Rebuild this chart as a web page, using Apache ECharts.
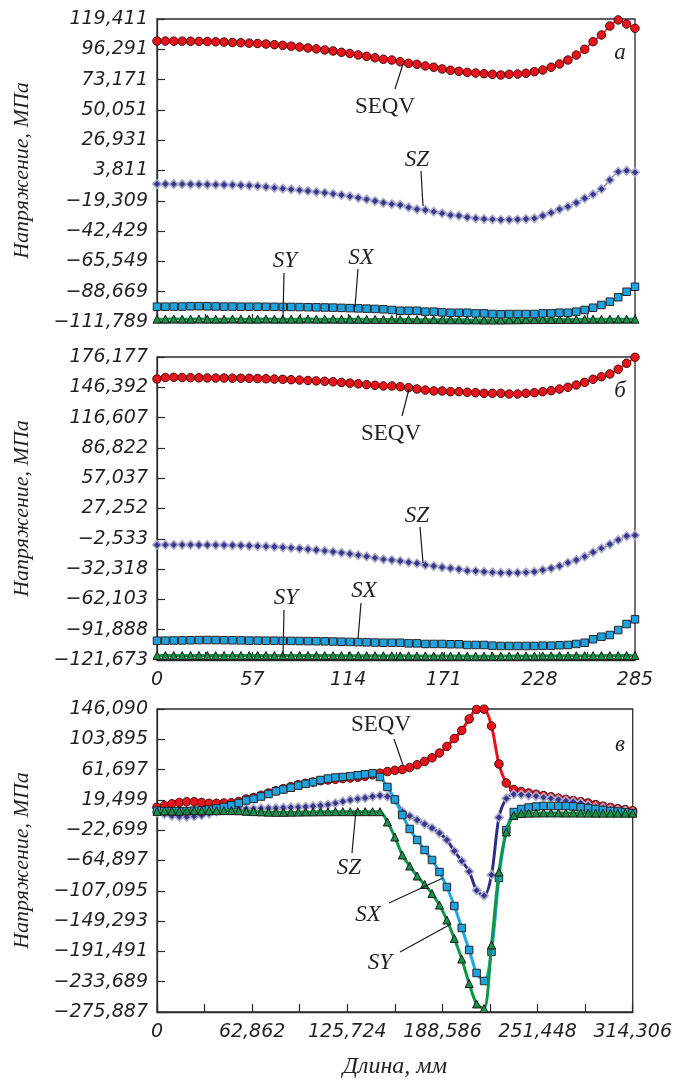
<!DOCTYPE html>
<html>
<head>
<meta charset="utf-8">
<script src="https://cdn.jsdelivr.net/npm/echarts@6/dist/echarts.min.js"></script>
<style>
  html, body { margin: 0; padding: 0; background: #fff; }
  #chart { width: 675px; height: 1081px; }
</style>
</head>
<body>
<div id="chart"></div>
<script>
// x positions, mm
var xsAB = [0, 5, 10, 15, 20, 25, 30, 35, 40, 45, 50, 55, 60, 65, 70, 75, 80, 85, 90, 95,
  100, 105, 110, 115, 120, 125, 130, 135, 140, 145, 150, 155, 160, 165, 170, 175, 180, 185, 190, 195,
  200, 205, 210, 215, 220, 225, 230, 235, 240, 245, 250, 255, 260, 265, 270, 275, 280, 285];
var xsC = [0, 4.91, 9.82, 14.73, 19.64, 24.56, 29.47, 34.38, 39.29, 44.2, 49.11, 54.02, 58.93, 63.84,
  68.75, 73.67, 78.58, 83.49, 88.4, 93.31, 98.22, 103.13, 108.04, 112.95, 117.86, 122.78, 127.69,
  132.6, 137.51, 142.42, 147.33, 152.24, 157.15, 162.06, 166.97, 171.89, 176.8, 181.71, 186.62,
  191.53, 196.44, 201.35, 206.26, 211.17, 216.09, 221.0, 225.91, 230.82, 235.73, 240.64, 245.55,
  250.46, 255.37, 260.28, 265.2, 270.11, 275.02, 279.93, 284.84, 289.75, 294.66, 299.57, 304.48,
  309.39, 314.3];

// panel a
var seqvA = [102.6, 102.6, 102.5, 102.5, 102.4, 102.3, 102.2, 102.0, 101.8, 101.5, 101.3, 101.0, 100.7,
  100.3, 99.8, 99.3, 98.7, 98.0, 97.3, 96.6, 95.8, 95.0, 94.0, 93.1, 92.0, 90.9, 89.8,
  88.7, 88.1, 86.8, 85.6, 84.8, 83.6, 82.6, 81.3, 80.3, 79.5, 78.7, 78.2, 77.7, 77.2, 76.7, 77.2,
  77.4, 78.0, 79.2, 80.5, 82.6, 85.1, 88.1, 91.9, 96.3, 102.1, 107.2, 114.1, 118.7, 115.6, 112.3];
var szA = [-6.5, -6.5, -6.6, -6.6, -6.7, -6.8, -6.9, -7.0, -7.1, -7.2, -7.4, -7.7, -8.1, -8.7, -9.4,
  -10.0, -10.6, -11.2, -11.8, -12.5, -13.2, -14.0, -14.9, -15.9, -17.0, -18.2, -19.5,
  -20.8, -21.8, -22.5, -24.3, -25.8, -26.3, -27.6, -28.9, -30.2, -30.7, -31.9, -32.7, -33.2, -33.5,
  -33.8, -33.8, -33.6, -33.2, -32.7, -30.7, -28.4, -25.8, -23.8, -20.8, -17.4, -14.4, -10.3, -3.4,
  2.9, 3.7, 2.4];
var sxA = [-100.1, -100.1, -100.0, -100.0, -99.8, -99.7, -99.8, -99.9, -100.0, -100.0, -100.1, -100.1,
  -100.1, -100.2, -100.2, -100.3, -100.3, -100.4, -100.5, -100.6, -100.7, -100.8, -101.0, -101.2,
  -101.4, -101.6, -101.8,
  -102.1, -102.6, -103.2, -103.2, -103.2, -103.9, -103.9, -104.4, -104.7, -104.7, -104.7, -105.2,
  -105.2, -105.7, -105.9, -105.7, -105.7, -105.7, -105.7, -105.2, -105.2, -104.7, -104.7, -103.9,
  -102.6, -100.9, -98.8, -96.3, -92.9, -88.7, -84.9];
var syA = [-109.6, -109.6, -109.5, -109.6, -109.6, -109.5, -109.6, -109.6, -109.6, -109.5, -109.6,
  -109.6, -109.6, -109.5, -109.6, -109.6, -109.6, -109.6, -109.5, -109.6, -109.6, -109.6, -109.7,
  -109.7, -109.7, -109.8, -109.8, -109.8, -109.9, -109.9, -109.9, -110.0, -110.0, -110.0, -110.1,
  -110.1, -110.1, -110.2, -110.2, -110.3, -110.3, -110.3, -110.2, -110.1, -110.0, -110.0, -109.9,
  -109.9, -109.8, -109.8, -109.8, -109.7, -109.7, -109.7, -109.6, -109.6, -109.6, -109.6];

// panel b
var seqvB = [154.6, 156.0, 156.2, 156.0, 155.8, 155.7, 155.6, 155.5, 155.5, 155.4, 155.3, 155.2, 155.0,
  154.8, 154.5, 154.2, 153.9, 153.5, 153.1, 152.7, 152.3, 151.8, 151.2, 150.5, 149.8, 149.0, 148.3,
  147.7, 147.7, 147.0, 146.0, 144.7, 143.7, 142.8, 142.8, 142.1, 142.1, 141.5, 141.1, 140.5, 140.5,
  140.5, 139.8, 139.8, 140.5, 141.1, 142.1, 143.1, 144.7, 146.4, 148.7, 151.3, 154.3, 156.8, 159.5,
  164.1, 170.0, 175.9];
var szB = [-8.6, -8.5, -8.5, -8.5, -8.5, -8.6, -8.6, -8.7, -8.8, -8.9, -9.1, -9.4, -9.7, -10.0, -10.4,
  -10.9, -11.5, -12.1, -12.8, -13.6, -14.4, -15.3, -16.3, -17.4, -18.6, -19.9, -21.3,
  -22.7, -23.4, -24.4, -25.6, -26.6, -28.3, -29.3, -30.5, -31.5, -32.5, -33.9, -34.2, -34.9, -35.5,
  -35.9, -35.9, -35.9, -35.5, -34.9, -33.2, -31.5, -29.3, -26.0, -23.4, -20.1, -15.8, -11.9, -7.9,
  -3.7, 0.2, 0.9];
var sxB = [-102.7, -102.6, -102.5, -102.4, -102.3, -102.1, -102.0, -102.1, -102.2, -102.3, -102.4,
  -102.6, -102.6, -102.7, -102.7, -102.8, -102.9, -103.0, -103.1, -103.2, -103.3, -103.5, -103.7,
  -103.9, -104.1, -104.3, -104.5,
  -104.7, -104.7, -104.7, -105.3, -105.3, -105.9, -105.9, -105.9, -106.2, -106.2, -106.9, -106.9,
  -106.9, -107.6, -107.9, -107.9, -107.9, -107.9, -107.9, -107.6, -107.6, -107.2, -106.9, -105.9,
  -104.7, -101.3, -98.8, -97.1, -92.2, -86.3, -81.7];
var syB = [-117.3, -117.3, -117.2, -117.3, -117.3, -117.2, -117.3, -117.3, -117.3, -117.2, -117.3,
  -117.3, -117.3, -117.2, -117.3, -117.3, -117.3, -117.3, -117.2, -117.3, -117.3, -117.3, -117.4,
  -117.4, -117.4, -117.5, -117.5, -117.5, -117.6, -117.6, -117.6, -117.7, -117.7, -117.7, -117.8,
  -117.8, -117.8, -117.9, -117.9, -117.9, -117.9, -117.9, -117.8, -117.8, -117.7, -117.7, -117.6,
  -117.6, -117.5, -117.5, -117.5, -117.4, -117.4, -117.4, -117.3, -117.3, -117.3, -117.3];

// panel c
var seqvC = [9.2, 11.7, 14.1, 15.9, 16.9, 17.0, 15.9, 14.8, 14.8, 15.2, 15.5, 17.3, 20.8, 22.8, 26.0,
  29.1, 32.2, 35.1, 37.9, 40.7, 42.6, 44.4, 46.2, 47.2, 48.2, 49.2, 50.0, 51.1, 52.5, 54.5, 56.7,
  58.9, 60.7, 61.8, 64.6, 68.4, 73.0, 78.1, 84.8, 93.9, 105.0, 116.2, 132.2, 145.4, 145.8, 122.4,
  69.5, 43.0, 34.0, 31.2, 29.1, 27.3, 25.5, 23.8, 22.0, 20.3, 18.6, 17.0, 15.3, 13.0, 10.8, 9.0,
  7.4, 6.0, 4.5];
var szC = [2.2, -0.4, -2.6, -3.8, -3.9, -3.2, -1.8, 0.4, 3.5, 5.2, 6.3, 7.1, 7.2, 7.2, 7.7, 7.8, 8.1,
  8.5, 9.1, 9.5, 9.9, 10.7, 11.7, 13.0, 15.0, 17.3, 19.4, 20.9, 22.1, 24.2, 25.6, 24.2, 19.4, 3.3,
  -2.9, -8.5, -14.1, -19.6, -26.6, -36.3, -51.7, -65.6, -80.2, -106.5, -113.9, -85.0, -5.0, 21.5,
  27.4, 26.9, 25.9, 24.7, 23.1, 21.7, 20.1, 18.4, 17.0, 15.2, 12.4, 10.0, 8.6, 6.8, 5.4, 4.0, 2.2];
var sxC = [4.5, 4.0, 3.8, 3.8, 4.0, 4.5, 5.0, 6.0, 7.5, 9.6, 12.0, 15.2, 18.7, 21.0, 24.2, 27.7, 31.5,
  34.0, 36.4, 39.4, 41.9, 44.2, 47.2, 49.2, 50.7, 51.4, 52.5, 53.8, 55.2, 56.5, 51.4, 37.5, 20.1,
  -1.5, -21.0, -36.3, -50.3, -64.2, -80.9, -101.8, -128.3, -158.9, -189.5, -221.6, -232.7, -192.0,
  -89.3, -22.4, 2.6, 6.8, 8.9, 10.3, 11.0, 11.0, 11.0, 11.0, 10.3, 9.2, 8.2, 6.8, 5.4, 4.0, 3.3,
  2.2, 1.3];
var syC = [3.5, 4.2, 4.0, 3.8, 4.4, 4.6, 4.4, 4.6, 4.4, 4.6, 4.6, 4.4, 3.6, 3.2, 2.8, 2.4, 2.2, 2.2,
  2.4, 2.5, 2.7, 2.8, 2.9, 3.0, 3.1, 3.1, 3.1, 3.1, 3.1, 3.1, 3.1,
  -11.3, -32.2, -57.2, -72.6, -86.5, -98.3, -110.9, -126.9, -147.8, -173.5, -202.1, -236.2, -264.7,
  -271.0, -182.6, -80.9, -25.2, -2.2, 0.6,
  1.0, 1.2, 1.3, 1.3, 1.3, 1.2, 1.2, 1.1, 1.1, 1.0, 1.0, 1.0, 1.0, 1.0, 1.0];

// tick labels
var yTicksA = [-111.789, -88.669, -65.549, -42.429, -19.309, 3.811, 26.931, 50.051, 73.171, 96.291, 119.411];
var yTicksB = [-121.673, -91.888, -62.103, -32.318, -2.533, 27.252, 57.037, 86.822, 116.607, 146.392, 176.177];
var yTicksC = [-275.887, -233.689, -191.491, -149.293, -107.095, -64.897, -22.699, 19.499, 61.697, 103.895, 146.090];
var xLabelsAB = [0, 57, 114, 171, 228, 285];
var xTicksAB = [0, 28.5, 57, 85.5, 114, 142.5, 171, 199.5, 228, 256.5, 285];
var xLabelsC = [0, 62.862, 125.724, 188.586, 251.448, 314.306];
var xTicksC = [0, 31.431, 62.862, 94.293, 125.724, 157.155, 188.586, 220.017, 251.448, 282.879, 314.306];

var AX = '#2b2b2b';
var TXT = '#231f20';
var tickFont = { fontFamily: 'DejaVu Sans', fontStyle: 'italic', fontSize: 19, color: TXT };
var nameFont = { fontFamily: 'Liberation Serif', fontStyle: 'italic', fontSize: 22, color: TXT };
var xNameFont = { fontFamily: 'Liberation Serif', fontStyle: 'italic', fontSize: 24, color: TXT };

function fmt(v) {
    if (v === 0) return '0';
    var s = Number.isInteger(v) ? String(Math.abs(v)) : Math.abs(v).toFixed(3).replace('.', ',');
    return (v < 0 ? '\u2212' : '') + s;
}

function pts(xs, ys) {
    return xs.map(function (x, i) { return [x, ys[i]]; });
}

var tops = [19, 357, 709];
var grids = tops.map(function (t) {
    return { left: 157, width: 478, top: t, height: 303, show: true, borderColor: AX, borderWidth: 1.3, backgroundColor: 'transparent' };
});

function xAxisFor(idx, max, ticks, labels, showLabels, name) {
    return {
        type: 'value', gridIndex: idx, min: 0, max: max,
        name: name || '', nameLocation: 'middle', nameGap: 43, nameTextStyle: xNameFont,
        axisLine: { show: true, onZero: false, lineStyle: { color: AX, width: 1.3 } },
        axisTick: { show: true, inside: true, length: 8, customValues: ticks, lineStyle: { color: AX, width: 1.2 } },
        axisLabel: { show: showLabels, customValues: labels, formatter: fmt, margin: 11, textStyle: tickFont },
        splitLine: { show: false }
    };
}

function yAxisFor(idx, ticks) {
    return {
        type: 'value', gridIndex: idx, min: ticks[0], max: ticks[ticks.length - 1],
        name: 'Напряжение, МПа', nameLocation: 'middle', nameGap: 124, nameTextStyle: nameFont,
        axisLine: { show: true, onZero: false, lineStyle: { color: AX, width: 1.3 } },
        axisTick: { show: true, inside: true, length: 8, customValues: ticks, lineStyle: { color: AX, width: 1.2 } },
        axisLabel: { customValues: ticks, formatter: fmt, margin: 9, textStyle: tickFont },
        splitLine: { show: false }
    };
}

var looks = {
    seqv: { symbol: 'circle', size: 8.5, fill: '#e8141c', border: '#4d0b0b', line: '#e8141c' },
    sz: { symbol: 'diamond', size: 8.5, fill: '#3a3690', border: '#ababc8', line: '#8f8db5' },
    sx: { symbol: 'rect', size: 7.5, fill: '#1fa3e0', border: '#262626', line: '#1fa3e0' },
    sy: { symbol: 'triangle', size: 8, fill: '#14934a', border: '#1b1b1b', line: '#14934a' }
};

function ser(idx, key, xs, ys, lw, lineColor, z) {
    var l = looks[key];
    return {
        type: 'line', xAxisIndex: idx, yAxisIndex: idx, data: pts(xs, ys),
        smooth: 0.3, symbol: l.symbol, symbolSize: l.size, showAllSymbol: true,
        lineStyle: { color: lineColor || l.line, width: lw },
        itemStyle: { color: l.fill, borderColor: l.border, borderWidth: key === 'sz' ? 1.6 : 1 },
        z: z, animation: false, silent: true
    };
}

var serif = '"Liberation Serif", "Times New Roman", serif';
function label(x, y, text, italic) {
    return { type: 'text', x: x, y: y, z: 100,
        style: { text: text, align: 'center', verticalAlign: 'middle', fill: TXT,
                 font: (italic ? 'italic ' : '') + '23px ' + serif } };
}
function leader(x1, y1, x2, y2) {
    return { type: 'line', z: 100, shape: { x1: x1, y1: y1, x2: x2, y2: y2 }, style: { stroke: '#1a1a1a', lineWidth: 1.2 } };
}

var chart = echarts.init(document.getElementById('chart'), null, { renderer: 'canvas' });
chart.setOption({
    backgroundColor: '#fff',
    animation: false,
    grid: grids,
    xAxis: [
        xAxisFor(0, 285, xTicksAB, xLabelsAB, false),
        xAxisFor(1, 285, xTicksAB, xLabelsAB, true),
        xAxisFor(2, 314.306, xTicksC, xLabelsC, true, 'Длина, мм')
    ],
    yAxis: [yAxisFor(0, yTicksA), yAxisFor(1, yTicksB), yAxisFor(2, yTicksC)],
    series: [
        ser(0, 'sy', xsAB, syA, 3, null, 2),
        ser(0, 'sx', xsAB, sxA, 1.5, null, 3),
        ser(0, 'sz', xsAB, szA, 1.5, null, 4),
        ser(0, 'seqv', xsAB, seqvA, 1.5, null, 5),
        ser(1, 'sy', xsAB, syB, 3, null, 2),
        ser(1, 'sx', xsAB, sxB, 1.5, null, 3),
        ser(1, 'sz', xsAB, szB, 1.5, null, 4),
        ser(1, 'seqv', xsAB, seqvB, 1.5, null, 5),
        ser(2, 'seqv', xsC, seqvC, 3, null, 2),
        ser(2, 'sz', xsC, szC, 3, '#2d2f87', 3),
        ser(2, 'sx', xsC, sxC, 3, '#22a6e2', 4),
        ser(2, 'sy', xsC, syC, 3, '#109447', 5)
    ],
    graphic: [
        // panel a
        label(385, 107, 'SEQV', false), leader(395, 89, 403, 64),
        label(417, 160, 'SZ', true), leader(421, 171, 423, 206),
        label(285, 261, 'SY', true), leader(284, 273, 283, 318),
        label(361, 258, 'SX', true), leader(358, 269, 355, 307),
        label(620, 53, 'а', true),
        // panel b
        label(391, 434, 'SEQV', false), leader(402, 416, 409, 389),
        label(417, 516, 'SZ', true), leader(420, 527, 423, 563),
        label(286, 598, 'SY', true), leader(284, 610, 283, 657),
        label(364, 591, 'SX', true), leader(361, 603, 358, 639),
        label(620, 391, 'б', true),
        // panel c
        label(381, 725, 'SEQV', false), leader(394, 739, 403, 765),
        label(349, 868, 'SZ', true), leader(352, 853, 356, 810),
        label(368, 915, 'SX', true), leader(389, 903, 443, 878),
        label(380, 963, 'SY', true), leader(400, 952, 451, 924),
        label(620, 745, 'в', true)
    ]
});
</script>
</body>
</html>
